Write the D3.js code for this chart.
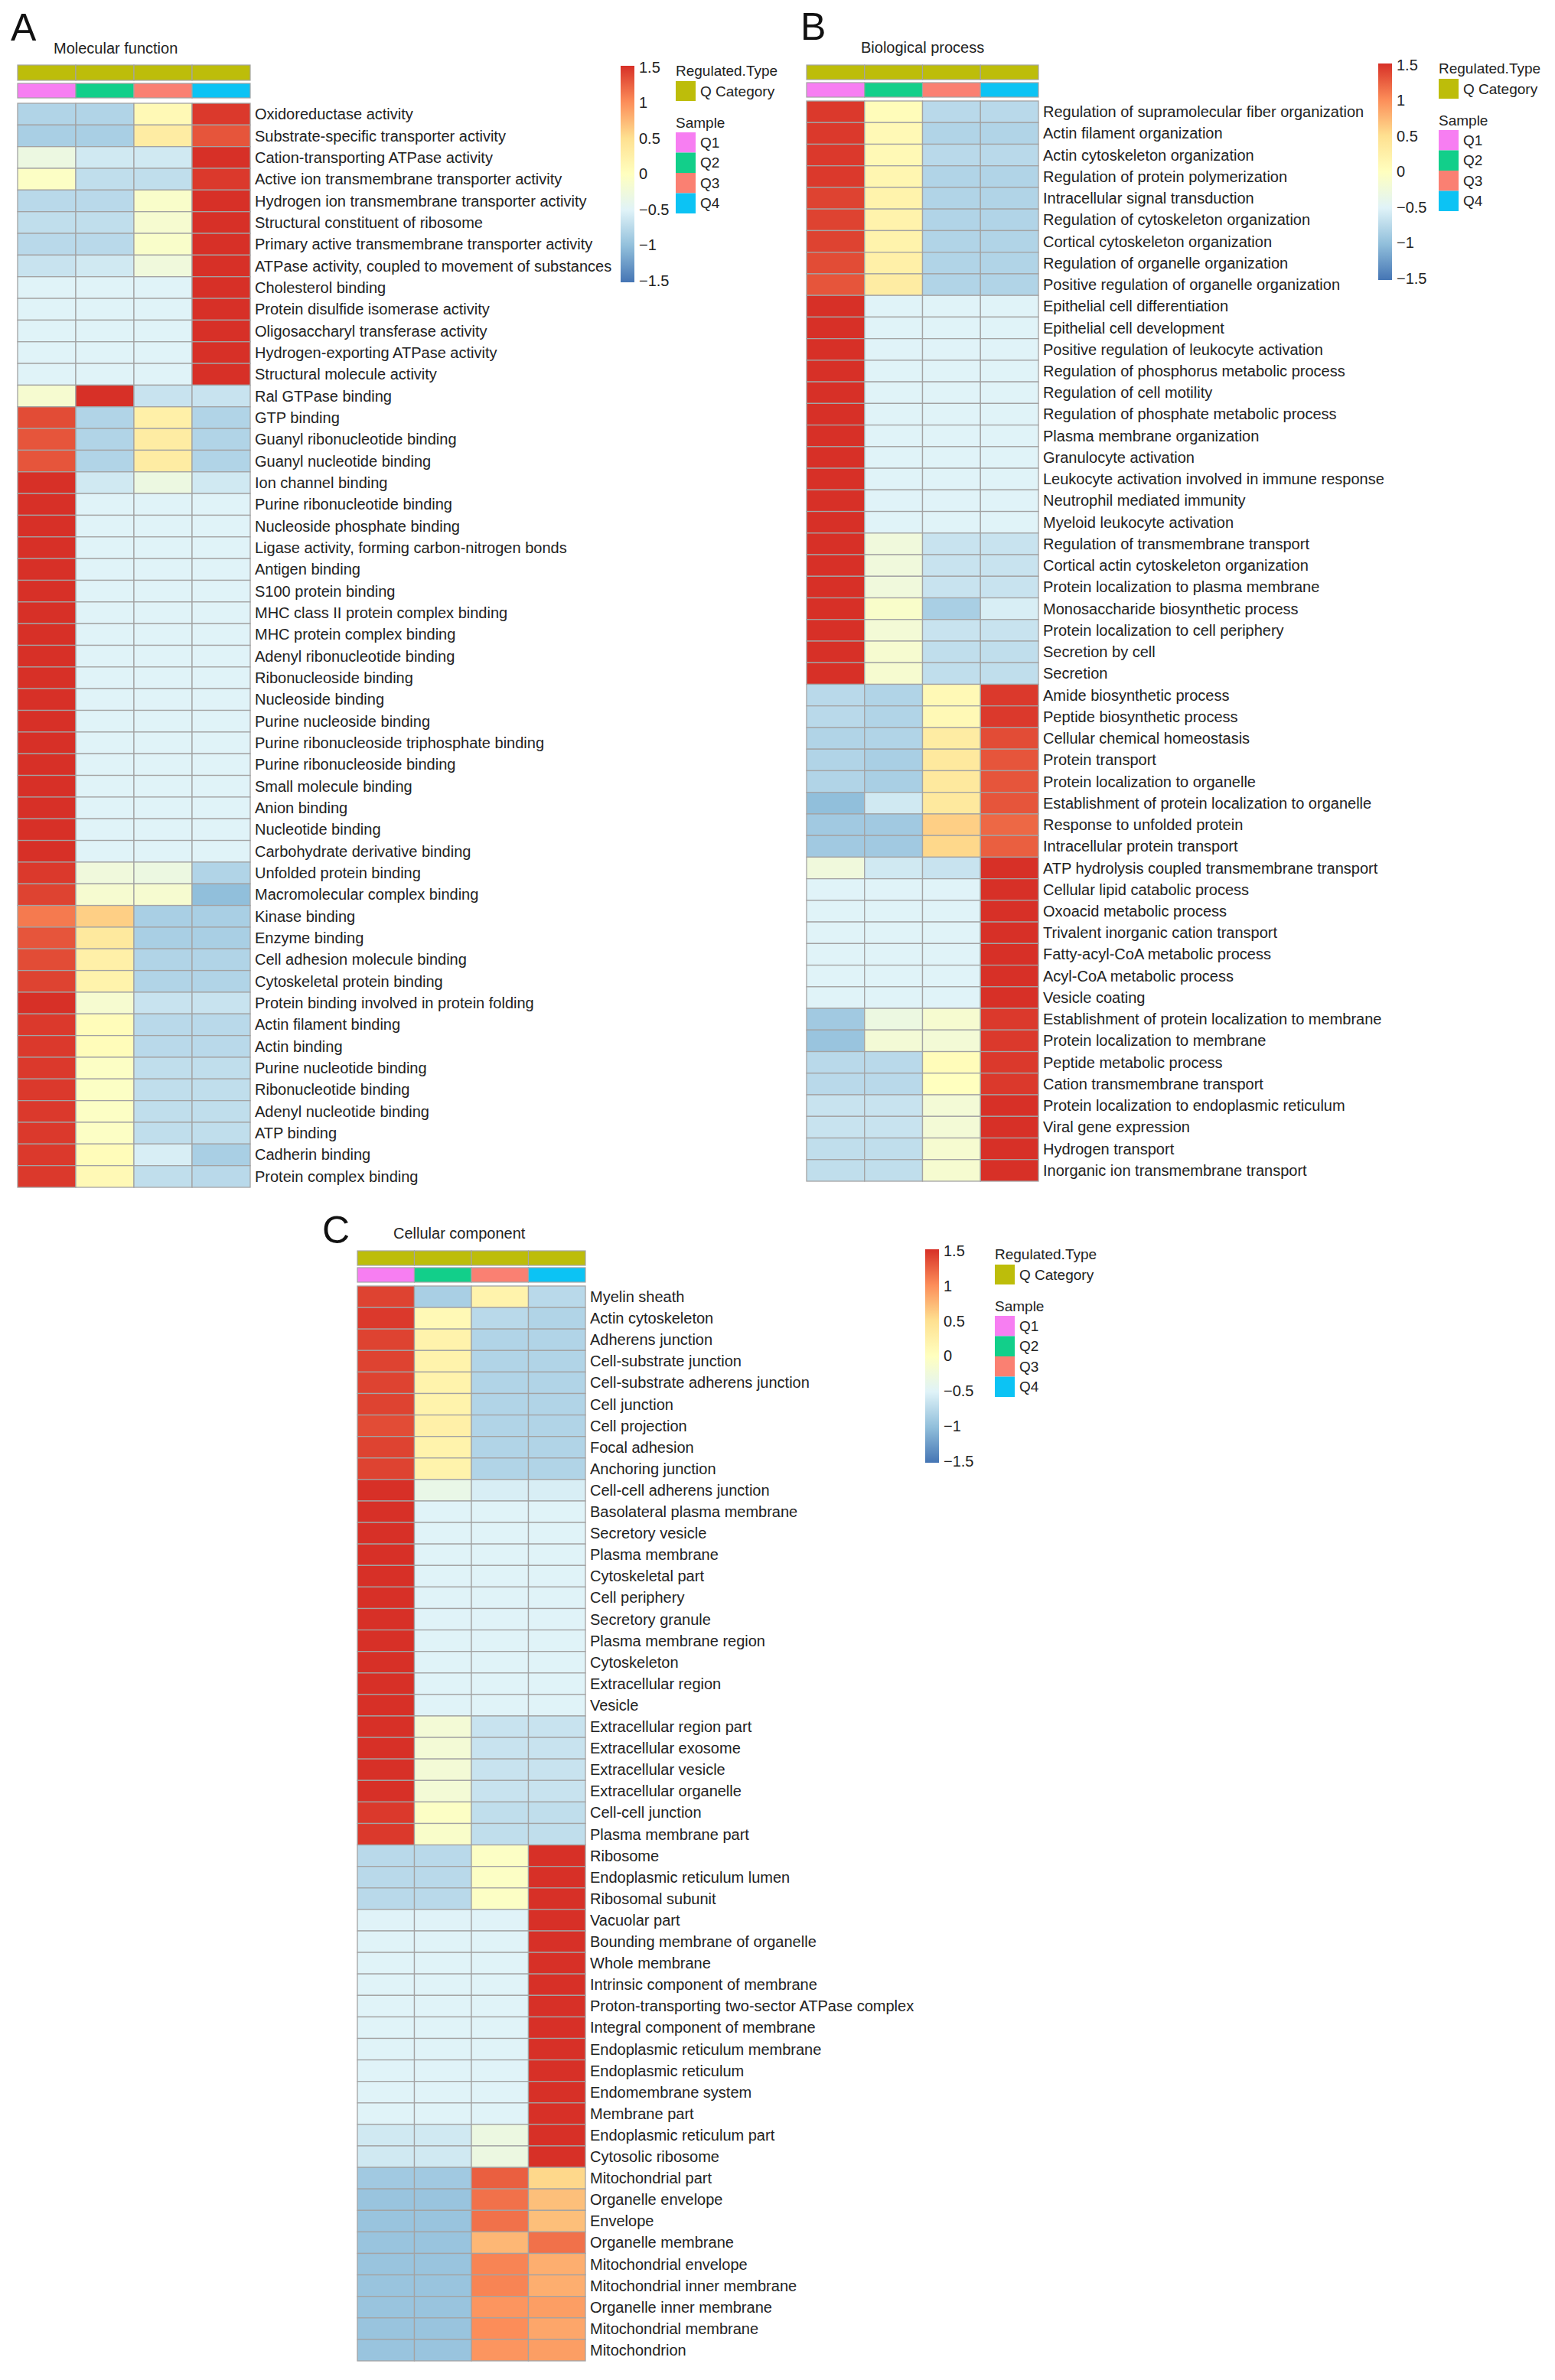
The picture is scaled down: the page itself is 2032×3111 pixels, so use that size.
<!DOCTYPE html>
<html>
<head>
<meta charset="utf-8">
<title>GO heatmaps</title>
<script src="https://d3js.org/d3.v7.min.js"></script>
<style>
  body { margin: 0; background: #fff; }
  svg { font-family: "Liberation Sans", Arial, sans-serif; }
</style>
</head>
<body>
<script>
// ---- data ----
const samples = ["Q1", "Q2", "Q3", "Q4"];
const sampleColors = ["#F77EF2", "#12CF8A", "#FA8072", "#0CC3F4"];
const regulatedType = "Q Category";
const regulatedColor = "#BDBD0A";
const legendTicks = [1.5, 1, 0.5, 0, -0.5, -1, -1.5];
const colorStops = [-1.5, -1, -0.5, 0, 0.5, 1, 1.5];
const colorRange = ["#4575B4", "#91BFDB", "#E0F3F8", "#FFFFBF", "#FEE090", "#FC8D59", "#D73027"];

const mfTerms = [
  "Oxidoreductase activity", "Substrate-specific transporter activity", "Cation-transporting ATPase activity",
  "Active ion transmembrane transporter activity", "Hydrogen ion transmembrane transporter activity",
  "Structural constituent of ribosome", "Primary active transmembrane transporter activity",
  "ATPase activity, coupled to movement of substances", "Cholesterol binding", "Protein disulfide isomerase activity",
  "Oligosaccharyl transferase activity", "Hydrogen-exporting ATPase activity", "Structural molecule activity",
  "Ral GTPase binding", "GTP binding", "Guanyl ribonucleotide binding", "Guanyl nucleotide binding",
  "Ion channel binding", "Purine ribonucleotide binding", "Nucleoside phosphate binding",
  "Ligase activity, forming carbon-nitrogen bonds", "Antigen binding", "S100 protein binding",
  "MHC class II protein complex binding", "MHC protein complex binding", "Adenyl ribonucleotide binding",
  "Ribonucleoside binding", "Nucleoside binding", "Purine nucleoside binding",
  "Purine ribonucleoside triphosphate binding", "Purine ribonucleoside binding", "Small molecule binding",
  "Anion binding", "Nucleotide binding", "Carbohydrate derivative binding", "Unfolded protein binding",
  "Macromolecular complex binding", "Kinase binding", "Enzyme binding", "Cell adhesion molecule binding",
  "Cytoskeletal protein binding", "Protein binding involved in protein folding", "Actin filament binding",
  "Actin binding", "Purine nucleotide binding", "Ribonucleotide binding", "Adenyl nucleotide binding",
  "ATP binding", "Cadherin binding", "Protein complex binding"
];
const mfValues = [
  [-0.8, -0.8, 0.1, 1.45], [-0.85, -0.85, 0.3, 1.3], [-0.3, -0.6, -0.6, 1.5], [-0.05, -0.7, -0.7, 1.45],
  [-0.75, -0.75, -0.1, 1.5], [-0.7, -0.7, -0.15, 1.5], [-0.75, -0.75, -0.1, 1.5], [-0.65, -0.6, -0.25, 1.5],
  [-0.5, -0.5, -0.5, 1.5], [-0.5, -0.5, -0.5, 1.5], [-0.5, -0.5, -0.5, 1.5], [-0.5, -0.5, -0.5, 1.5],
  [-0.5, -0.5, -0.5, 1.5], [-0.15, 1.5, -0.65, -0.65], [1.35, -0.8, 0.25, -0.8], [1.3, -0.8, 0.3, -0.8],
  [1.3, -0.8, 0.3, -0.8], [1.5, -0.6, -0.3, -0.6], [1.5, -0.5, -0.5, -0.5], [1.5, -0.5, -0.5, -0.5],
  [1.5, -0.5, -0.5, -0.5], [1.5, -0.5, -0.5, -0.5], [1.5, -0.5, -0.5, -0.5], [1.5, -0.5, -0.5, -0.5],
  [1.5, -0.5, -0.5, -0.5], [1.5, -0.5, -0.5, -0.5], [1.5, -0.5, -0.5, -0.5], [1.5, -0.5, -0.5, -0.5],
  [1.5, -0.5, -0.5, -0.5], [1.5, -0.5, -0.5, -0.5], [1.5, -0.5, -0.5, -0.5], [1.5, -0.5, -0.5, -0.5],
  [1.5, -0.5, -0.5, -0.5], [1.5, -0.5, -0.5, -0.5], [1.5, -0.5, -0.5, -0.5], [1.45, -0.25, -0.3, -0.8],
  [1.4, -0.15, -0.15, -1.0], [1.1, 0.6, -0.85, -0.85], [1.3, 0.35, -0.85, -0.85], [1.35, 0.25, -0.8, -0.8],
  [1.4, 0.2, -0.8, -0.8], [1.5, -0.15, -0.65, -0.65], [1.45, 0.05, -0.75, -0.75], [1.45, 0.05, -0.75, -0.75],
  [1.45, -0.05, -0.7, -0.7], [1.45, -0.05, -0.7, -0.7], [1.45, -0.05, -0.7, -0.7], [1.45, -0.05, -0.7, -0.7],
  [1.45, 0.05, -0.55, -0.85], [1.45, 0.1, -0.7, -0.75]
];

const bpTerms = [
  "Regulation of supramolecular fiber organization", "Actin filament organization", "Actin cytoskeleton organization",
  "Regulation of protein polymerization", "Intracellular signal transduction", "Regulation of cytoskeleton organization",
  "Cortical cytoskeleton organization", "Regulation of organelle organization", "Positive regulation of organelle organization",
  "Epithelial cell differentiation", "Epithelial cell development", "Positive regulation of leukocyte activation",
  "Regulation of phosphorus metabolic process", "Regulation of cell motility", "Regulation of phosphate metabolic process",
  "Plasma membrane organization", "Granulocyte activation", "Leukocyte activation involved in immune response",
  "Neutrophil mediated immunity", "Myeloid leukocyte activation", "Regulation of transmembrane transport",
  "Cortical actin cytoskeleton organization", "Protein localization to plasma membrane", "Monosaccharide biosynthetic process",
  "Protein localization to cell periphery", "Secretion by cell", "Secretion", "Amide biosynthetic process",
  "Peptide biosynthetic process", "Cellular chemical homeostasis", "Protein transport", "Protein localization to organelle",
  "Establishment of protein localization to organelle", "Response to unfolded protein", "Intracellular protein transport",
  "ATP hydrolysis coupled transmembrane transport", "Cellular lipid catabolic process", "Oxoacid metabolic process",
  "Trivalent inorganic cation transport", "Fatty-acyl-CoA metabolic process", "Acyl-CoA metabolic process",
  "Vesicle coating", "Establishment of protein localization to membrane", "Protein localization to membrane",
  "Peptide metabolic process", "Cation transmembrane transport", "Protein localization to endoplasmic reticulum",
  "Viral gene expression", "Hydrogen transport", "Inorganic ion transmembrane transport"
];
const bpValues = [
  [1.45, 0.05, -0.75, -0.75], [1.45, 0.1, -0.8, -0.8], [1.45, 0.1, -0.75, -0.75], [1.45, 0.15, -0.8, -0.8],
  [1.4, 0.2, -0.8, -0.8], [1.4, 0.2, -0.8, -0.8], [1.4, 0.2, -0.8, -0.8], [1.35, 0.25, -0.8, -0.8],
  [1.3, 0.3, -0.8, -0.8], [1.5, -0.5, -0.5, -0.5], [1.5, -0.5, -0.5, -0.5], [1.5, -0.5, -0.5, -0.5],
  [1.5, -0.5, -0.5, -0.5], [1.5, -0.5, -0.5, -0.5], [1.5, -0.5, -0.5, -0.5], [1.5, -0.5, -0.5, -0.5],
  [1.5, -0.5, -0.5, -0.5], [1.5, -0.5, -0.5, -0.5], [1.5, -0.5, -0.5, -0.5], [1.5, -0.5, -0.5, -0.5],
  [1.5, -0.25, -0.65, -0.65], [1.5, -0.25, -0.65, -0.65], [1.5, -0.25, -0.65, -0.65], [1.5, -0.1, -0.85, -0.55],
  [1.5, -0.2, -0.65, -0.65], [1.5, -0.15, -0.7, -0.7], [1.5, -0.15, -0.7, -0.7], [-0.75, -0.8, 0.1, 1.45],
  [-0.75, -0.8, 0.1, 1.45], [-0.8, -0.8, 0.3, 1.35], [-0.8, -0.85, 0.35, 1.3], [-0.8, -0.85, 0.35, 1.3],
  [-1.0, -0.6, 0.35, 1.3], [-0.9, -0.9, 0.6, 1.2], [-0.9, -0.9, 0.55, 1.25], [-0.25, -0.6, -0.65, 1.5],
  [-0.5, -0.5, -0.5, 1.5], [-0.5, -0.5, -0.5, 1.5], [-0.5, -0.5, -0.5, 1.5], [-0.5, -0.5, -0.5, 1.5],
  [-0.5, -0.5, -0.5, 1.5], [-0.5, -0.5, -0.5, 1.5], [-0.9, -0.3, -0.15, 1.45], [-0.95, -0.2, -0.2, 1.45],
  [-0.75, -0.75, 0.05, 1.45], [-0.75, -0.75, 0.0, 1.45], [-0.65, -0.65, -0.2, 1.5], [-0.65, -0.65, -0.2, 1.5],
  [-0.7, -0.7, -0.15, 1.5], [-0.7, -0.7, -0.15, 1.5]
];

const ccTerms = [
  "Myelin sheath", "Actin cytoskeleton", "Adherens junction", "Cell-substrate junction", "Cell-substrate adherens junction",
  "Cell junction", "Cell projection", "Focal adhesion", "Anchoring junction", "Cell-cell adherens junction",
  "Basolateral plasma membrane", "Secretory vesicle", "Plasma membrane", "Cytoskeletal part", "Cell periphery",
  "Secretory granule", "Plasma membrane region", "Cytoskeleton", "Extracellular region", "Vesicle",
  "Extracellular region part", "Extracellular exosome", "Extracellular vesicle", "Extracellular organelle",
  "Cell-cell junction", "Plasma membrane part", "Ribosome", "Endoplasmic reticulum lumen", "Ribosomal subunit",
  "Vacuolar part", "Bounding membrane of organelle", "Whole membrane", "Intrinsic component of membrane",
  "Proton-transporting two-sector ATPase complex", "Integral component of membrane", "Endoplasmic reticulum membrane",
  "Endoplasmic reticulum", "Endomembrane system", "Membrane part", "Endoplasmic reticulum part", "Cytosolic ribosome",
  "Mitochondrial part", "Organelle envelope", "Envelope", "Organelle membrane", "Mitochondrial envelope",
  "Mitochondrial inner membrane", "Organelle inner membrane", "Mitochondrial membrane", "Mitochondrion"
];
const ccValues = [
  [1.4, -0.85, 0.2, -0.75], [1.45, 0.1, -0.75, -0.8], [1.4, 0.2, -0.8, -0.8], [1.4, 0.2, -0.8, -0.8],
  [1.4, 0.2, -0.8, -0.8], [1.4, 0.2, -0.8, -0.8], [1.35, 0.25, -0.8, -0.8], [1.4, 0.2, -0.8, -0.8],
  [1.4, 0.2, -0.8, -0.8], [1.5, -0.35, -0.55, -0.55], [1.5, -0.5, -0.5, -0.5], [1.5, -0.5, -0.5, -0.5],
  [1.5, -0.5, -0.5, -0.5], [1.5, -0.5, -0.5, -0.5], [1.5, -0.5, -0.5, -0.5], [1.5, -0.5, -0.5, -0.5],
  [1.5, -0.5, -0.5, -0.5], [1.5, -0.5, -0.5, -0.5], [1.5, -0.5, -0.5, -0.5], [1.5, -0.5, -0.5, -0.5],
  [1.5, -0.2, -0.65, -0.65], [1.5, -0.2, -0.65, -0.65], [1.5, -0.2, -0.65, -0.65], [1.5, -0.2, -0.65, -0.65],
  [1.45, -0.05, -0.7, -0.7], [1.45, -0.1, -0.7, -0.7], [-0.75, -0.75, -0.05, 1.5], [-0.75, -0.75, -0.05, 1.5],
  [-0.75, -0.75, -0.05, 1.5], [-0.5, -0.5, -0.5, 1.5], [-0.5, -0.5, -0.5, 1.5], [-0.5, -0.5, -0.5, 1.5],
  [-0.5, -0.5, -0.5, 1.5], [-0.5, -0.5, -0.5, 1.5], [-0.5, -0.5, -0.5, 1.5], [-0.5, -0.5, -0.5, 1.5],
  [-0.5, -0.5, -0.5, 1.5], [-0.5, -0.5, -0.5, 1.5], [-0.5, -0.5, -0.5, 1.5], [-0.6, -0.6, -0.3, 1.5],
  [-0.6, -0.6, -0.3, 1.5], [-0.9, -0.9, 1.25, 0.55], [-0.95, -0.95, 1.15, 0.7], [-0.95, -0.95, 1.15, 0.7],
  [-0.95, -0.95, 0.75, 1.15], [-0.95, -0.95, 1.05, 0.8], [-0.95, -0.95, 1.05, 0.8], [-0.95, -0.95, 0.95, 0.9],
  [-0.95, -0.95, 1.0, 0.85], [-0.95, -0.95, 0.95, 0.9]
];

// ---- layout (pixels of the 2032 x 3111 page) ----
const panels = [
  { letter: "A", title: "Molecular function", terms: mfTerms, values: mfValues,
    letterX: 14, letterY: 53, titleX: 70, titleY: 63,
    x0: 23, x1: 327, annY: [85, 105], sampY: [109, 128], heatY: [135, 1552],
    barX: 811, barY: [86, 369], legendX: 883 },
  { letter: "B", title: "Biological process", terms: bpTerms, values: bpValues,
    letterX: 1046, letterY: 52, titleX: 1125, titleY: 62,
    x0: 1054, x1: 1357, annY: [85, 104], sampY: [108, 127], heatY: [132, 1544],
    barX: 1801, barY: [83, 366], legendX: 1880 },
  { letter: "C", title: "Cellular component", terms: ccTerms, values: ccValues,
    letterX: 421, letterY: 1625, titleX: 514, titleY: 1612,
    x0: 467, x1: 765, annY: [1635, 1654], sampY: [1657, 1676], heatY: [1681, 3086],
    barX: 1209, barY: [1633, 1912], legendX: 1300 }
];

const W = 2032, H = 3111;
const border = "#a3a3a3";
const textColor = "#222";

const color = d3.scaleLinear().domain(colorStops).range(colorRange).clamp(true);

const svg = d3.select("body").append("svg")
  .attr("width", W).attr("height", H)
  .attr("viewBox", `0 0 ${W} ${H}`);

const defs = svg.append("defs");
const grad = defs.append("linearGradient")
  .attr("id", "zscale").attr("x1", 0).attr("y1", 1).attr("x2", 0).attr("y2", 0);
grad.selectAll("stop").data(colorStops).enter().append("stop")
  .attr("offset", d => (d + 1.5) / 3)
  .attr("stop-color", d => color(d));

panels.forEach(p => {
  const g = svg.append("g");

  g.append("text").attr("x", p.letterX).attr("y", p.letterY)
    .attr("font-size", 50).attr("fill", "#111").text(p.letter);
  g.append("text").attr("x", p.titleX).attr("y", p.titleY)
    .attr("dominant-baseline", "central")
    .attr("font-size", 20).attr("fill", textColor).text(p.title);

  const x = d3.scaleBand().domain(samples).range([p.x0, p.x1]);
  const y = d3.scaleBand().domain(d3.range(p.terms.length)).range(p.heatY);

  // annotation rows
  g.selectAll(".ann").data(samples).enter().append("rect")
    .attr("x", d => x(d)).attr("y", p.annY[0])
    .attr("width", x.bandwidth()).attr("height", p.annY[1] - p.annY[0])
    .attr("fill", regulatedColor).attr("stroke", border).attr("stroke-width", 1.2);
  g.selectAll(".samp").data(samples).enter().append("rect")
    .attr("x", d => x(d)).attr("y", p.sampY[0])
    .attr("width", x.bandwidth()).attr("height", p.sampY[1] - p.sampY[0])
    .attr("fill", (d, i) => sampleColors[i]).attr("stroke", border).attr("stroke-width", 1.2);

  // cells
  const cells = p.values.flatMap((row, i) => row.map((v, j) => ({ i, s: samples[j], v })));
  g.selectAll(".cell").data(cells).enter().append("rect")
    .attr("x", d => x(d.s)).attr("y", d => y(d.i))
    .attr("width", x.bandwidth()).attr("height", y.bandwidth())
    .attr("fill", d => color(d.v))
    .attr("stroke", border).attr("stroke-width", 1.3);

  // row labels
  g.selectAll(".lab").data(p.terms).enter().append("text")
    .attr("x", p.x1 + 6).attr("y", (d, i) => y(i) + y.bandwidth() / 2)
    .attr("dominant-baseline", "central")
    .attr("font-size", 20).attr("fill", textColor).text(d => d);

  // colour bar
  g.append("rect").attr("x", p.barX).attr("y", p.barY[0])
    .attr("width", 18).attr("height", p.barY[1] - p.barY[0])
    .attr("fill", "url(#zscale)");
  const ly = d3.scaleLinear().domain([-1.5, 1.5]).range([p.barY[1] - 2, p.barY[0] + 2]);
  const axis = g.append("g").attr("transform", `translate(${p.barX + 18},0)`)
    .call(d3.axisRight(ly).tickValues(legendTicks).tickSize(0).tickPadding(6).tickFormat(d3.format("")));
  axis.select(".domain").remove();
  axis.selectAll("text").attr("font-size", 20).attr("fill", textColor)
    .attr("font-family", "Liberation Sans, Arial, sans-serif");

  // annotation legend
  const b0 = p.barY[0];
  const sw = 26;
  g.append("text").attr("x", p.legendX).attr("y", b0 + 6)
    .attr("dominant-baseline", "central").attr("font-size", 19).attr("fill", textColor)
    .text("Regulated.Type");
  g.append("rect").attr("x", p.legendX).attr("y", b0 + 20)
    .attr("width", sw).attr("height", sw).attr("fill", regulatedColor);
  g.append("text").attr("x", p.legendX + sw + 6).attr("y", b0 + 20 + sw / 2)
    .attr("dominant-baseline", "central").attr("font-size", 19).attr("fill", textColor)
    .text(regulatedType);
  g.append("text").attr("x", p.legendX).attr("y", b0 + 74)
    .attr("dominant-baseline", "central").attr("font-size", 19).attr("fill", textColor)
    .text("Sample");
  const ls = d3.scaleBand().domain(samples).range([b0 + 87, b0 + 87 + 4 * 26.5]);
  g.selectAll(".lsw").data(samples).enter().append("rect")
    .attr("x", p.legendX).attr("y", d => ls(d))
    .attr("width", sw).attr("height", ls.bandwidth())
    .attr("fill", (d, i) => sampleColors[i]);
  g.selectAll(".lst").data(samples).enter().append("text")
    .attr("x", p.legendX + sw + 6).attr("y", d => ls(d) + ls.bandwidth() / 2)
    .attr("dominant-baseline", "central").attr("font-size", 19).attr("fill", textColor)
    .text(d => d);
});
</script>
</body>
</html>
